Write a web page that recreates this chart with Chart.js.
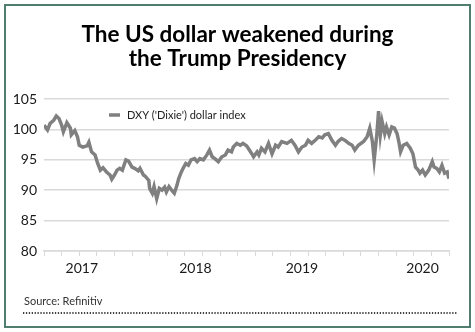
<!DOCTYPE html>
<html>
<head>
<meta charset="utf-8">
<script src="https://cdn.jsdelivr.net/npm/chart.js@4.4.1/dist/chart.umd.min.js"></script>
<style>
  html, body { margin: 0; padding: 0; background: #ffffff; }
  #wrap { width: 475px; height: 332px; position: relative; }
</style>
</head>
<body>
<div id="wrap"><canvas id="c" width="475" height="332"></canvas></div>
<script>
// ---- data (x = position in 2-month axis steps, y = DXY) ----
const titleLines = ["The US dollar weakened during", "the Trump Presidency"];
const seriesName = "DXY ('Dixie') dollar index";
const sourceText = "Source: Refinitiv";
const yearLabels = ["2017", "2018", "2019", "2020"];
const yearPositions = [4.3, 17.2, 29.3, 43.0];
const yTicks = [80, 85, 90, 95, 100, 105];

const xPos = [
  0.0, 0.4, 0.7, 1.1, 1.4, 1.7, 2.0, 2.2, 2.6, 3.0, 3.1, 3.5, 3.8, 4.0, 4.4, 4.9, 5.1, 5.4, 5.8, 6.1,
  6.4, 6.7, 7.1, 7.5, 7.7, 8.0, 8.3, 8.6, 8.9, 9.3, 9.6, 10.0, 10.3, 10.7, 10.9, 11.3, 11.5, 11.9, 12.0, 12.3,
  12.5, 12.8, 13.1, 13.4, 13.7, 13.9, 14.2, 14.5, 14.8, 15.1, 15.3, 15.6, 15.8, 16.1, 16.4, 16.7, 17.1, 17.4, 17.7, 18.1,
  18.5, 18.8, 19.1, 19.4, 19.8, 20.2, 20.6, 20.9, 21.3, 21.5, 21.9, 22.3, 22.6, 23.0, 23.2, 23.6, 23.8, 24.2, 24.4, 24.7,
  25.1, 25.5, 25.9, 26.3, 26.6, 27.0, 27.6, 28.1, 28.5, 28.9, 29.3, 29.7, 30.0, 30.4, 30.8, 31.2, 31.6, 31.9, 32.3, 32.7,
  33.1, 33.4, 33.8, 34.2, 34.6, 35.0, 35.3, 35.7, 36.3, 36.7, 37.0, 37.3, 37.5, 37.8, 38.0, 38.2, 38.4, 38.7, 38.9, 39.2,
  39.5, 39.8, 40.1, 40.3, 40.5, 40.8, 41.2, 41.6, 41.9, 42.2, 42.5, 42.7, 43.0, 43.3, 43.7, 44.1, 44.3, 44.6, 44.9, 45.2,
  45.5, 45.8, 46.0
];
const dxy = [
  100.7, 99.9, 101.0, 101.5, 102.2, 101.8, 100.7, 99.6, 101.1, 100.2, 99.1, 99.8, 98.8, 97.4, 97.1, 97.3, 97.9, 96.3, 95.8, 94.4,
  93.3, 93.7, 93.0, 92.5, 91.8, 92.5, 93.3, 93.6, 93.3, 95.0, 94.8, 93.8, 93.6, 93.2, 93.6, 92.5, 92.3, 91.6, 90.3, 89.5,
  90.6, 88.6, 90.3, 90.0, 90.5, 89.7, 90.6, 90.0, 89.5, 90.8, 91.9, 93.0, 93.6, 94.4, 94.1, 95.0, 95.2, 94.7, 95.2, 95.0,
  95.8, 96.6, 95.5, 95.2, 94.7, 95.5, 95.8, 96.6, 96.3, 97.1, 97.7, 97.4, 97.7, 97.3, 96.9, 96.0, 95.5, 96.3, 95.8, 96.9,
  96.3, 97.7, 96.0, 97.4, 97.1, 98.0, 97.7, 98.2, 97.4, 96.3, 97.1, 97.4, 98.2, 97.7, 98.2, 98.8, 98.6, 99.1, 99.3, 98.2,
  97.4, 98.0, 98.5, 98.2, 97.7, 97.4, 96.6, 97.4, 98.0, 98.8, 100.2, 98.0, 95.0, 99.1, 103.0, 99.1, 101.3, 99.3, 100.4, 99.1,
  100.4, 100.2, 99.3, 98.0, 96.3, 97.4, 97.7, 96.9, 96.0, 93.8, 93.3, 92.8, 93.3, 92.5, 93.3, 94.7, 93.8, 93.6, 93.0, 94.1,
  92.8, 93.0, 91.9
];

const points = xPos.map((x, i) => ({ x: x, y: dxy[i] }));

const FONT = "Lato, 'Open Sans', sans-serif";
const GRID = '#d9d9d9';

const framePlugin = {
  id: 'frame',
  afterDraw(chart) {
    const ctx = chart.ctx;
    const area = chart.chartArea;
    ctx.save();
    // outer border
    ctx.strokeStyle = '#4f7d6f';
    ctx.lineWidth = 2;
    ctx.strokeRect(5, 5, 465, 322);
    // legend inside plot
    const lx = area.left + 65, ly = area.top + 16;
    ctx.strokeStyle = '#808080';
    ctx.lineWidth = 3.5;
    ctx.beginPath();
    ctx.moveTo(lx, ly);
    ctx.lineTo(lx + 11, ly);
    ctx.stroke();
    ctx.fillStyle = '#222';
    ctx.font = "11px " + FONT;
    ctx.textBaseline = 'middle';
    ctx.textAlign = 'left';
    ctx.fillText(seriesName, lx + 18, ly);
    // source
    ctx.fillStyle = '#333';
    ctx.font = "11px " + FONT;
    ctx.fillText(sourceText, 24, 301);
    // dotted rule
    ctx.strokeStyle = '#000';
    ctx.lineWidth = 1.3;
    ctx.setLineDash([1.3, 1.6]);
    ctx.beginPath();
    ctx.moveTo(23, 313);
    ctx.lineTo(458, 313);
    ctx.stroke();
    ctx.restore();
  }
};

new Chart(document.getElementById('c'), {
  type: 'line',
  data: {
    datasets: [{
      label: seriesName,
      data: points,
      borderColor: '#808080',
      borderWidth: 3.5,
      pointRadius: 0,
      tension: 0,
      fill: false
    }]
  },
  options: {
    responsive: false,
    animation: false,
    layout: { padding: { left: 0, right: 0, top: 0, bottom: 50 } },
    plugins: {
      legend: { display: false },
      tooltip: { enabled: false },
      title: {
        display: true,
        text: titleLines,
        color: '#000',
        font: { family: FONT, size: 22.5, weight: 'bold', lineHeight: 1.1 },
        padding: { top: 22, bottom: 27.5 }
      }
    },
    scales: {
      x: {
        type: 'linear',
        position: 'bottom',
        min: 0, max: 46,
        afterBuildTicks(scale) {
          const t = [];
          for (let v = 0; v <= 46; v += 2) t.push({ value: v });
          scale.ticks = t;
        },
        afterFit(scale) { scale.height = 6; },
        ticks: { display: false },
        grid: { drawOnChartArea: false, drawTicks: true, tickLength: 5, color: GRID, lineWidth: 1 },
        border: { display: true, color: GRID, width: 1.5 }
      },
      xYears: {
        type: 'linear',
        position: 'bottom',
        min: 0, max: 46,
        afterBuildTicks(scale) {
          scale.ticks = yearPositions.map(v => ({ value: v }));
        },
        afterFit(scale) { scale.height = 25; },
        ticks: {
          autoSkip: false,
          maxRotation: 0,
          padding: 3,
          color: '#1a1a1a',
          font: { family: FONT, size: 14 },
          callback(value) {
            const i = yearPositions.indexOf(value);
            return i >= 0 ? yearLabels[i] : '';
          }
        },
        grid: { display: false, drawTicks: false },
        border: { display: false }
      },
      y: {
        min: 80, max: 105,
        afterBuildTicks(scale) { scale.ticks = yTicks.map(v => ({ value: v })); },
        afterFit(scale) { scale.width = 44; },
        ticks: { padding: 7, color: '#1a1a1a', font: { family: FONT, size: 14 } },
        grid: { color: GRID, lineWidth: 1.5, drawTicks: false },
        border: { display: false }
      },
      yRight: {
        position: 'right',
        min: 80, max: 105,
        afterFit(scale) { scale.width = 26; },
        ticks: { display: false },
        grid: { display: false, drawTicks: false },
        border: { display: false }
      }
    }
  },
  plugins: [framePlugin]
});
</script>
</body>
</html>
